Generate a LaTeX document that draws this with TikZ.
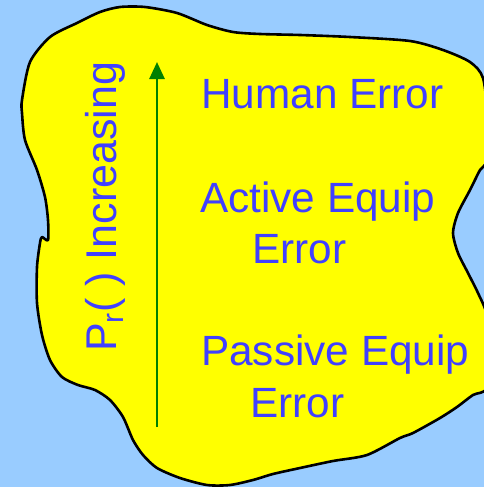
\documentclass[tikz,border=0pt]{standalone}
\usepackage{fontspec}
\setmainfont{Liberation Sans}
\usepackage{tikz}
\usetikzlibrary{
  arrows.meta,
  calc
}
\usepackage{xcolor}
\definecolor{bgblue}{RGB}{153, 204, 255}
\definecolor{blobyellow}{RGB}{255, 255, 0}
\definecolor{txtblue}{RGB}{64, 64, 255}
\definecolor{arrgreen}{RGB}{0, 128, 0}
\tikzset{
  % Shakl
  blob/.style      = {fill=blobyellow, draw=black, line width=2.6pt, line join=round},
  % Strelka
  prarrow/.style   = {-{Triangle[width=15pt,length=17pt]}, line width=2.7pt, draw=arrgreen},
  % Matnlar
  errlab/.style    = {anchor=base west, inner sep=0pt, text=txtblue,
                      font=\fontsize{42.3}{50}\selectfont},
  sidelab/.style   = {errlab, rotate=90, font=\fontsize{43}{50}\selectfont},
}

\begin{document}
\begin{tikzpicture}[x=1pt, y=-1pt]
  % Fon
  \useasboundingbox (0,0) rectangle (484,487);
  \clip (0,0) rectangle (484,487);
  \fill[bgblue] (0,0) rectangle (484,487);
  % Sariq shakl
  \draw[blob] plot[smooth cycle, tension=0.45] coordinates {
    (22,100) (30,62) (50,37) (77,23) (100,12) (120,7) (145,7) (177,13)
    (207,25) (233,32) (260,34) (300,35) (350,37) (410,41) (443,50)
    (470,62) (483,78) (488,120) (487,160) (480,170) (470,190) (458,213)
    (453,233) (458,253) (468,273) (478,293) (487,315) (490,350) (487,388)
    (473,395) (457,407) (440,418) (413,433) (400,438) (367,455) (333,461)
    (300,468) (273,474) (253,480) (230,485) (207,485) (180,478) (157,468)
    (143,455) (133,440) (123,417) (110,400) (95,390) (78,385) (62,377)
    (50,360) (42,335) (37,303) (37,267) (40,243) (42,237) (48,240)
    (48,220) (45,197) (37,170) (25,140) (22,113)};
  % Strelka
  \coordinate (arrbot) at (157,427);
  \coordinate (arrtop) at (157,62);
  \draw[prarrow] (arrbot) -- (arrtop);
  % Yon yozuv
  \node[sidelab] (princ) at (116,352) {P\textsubscript{r}( ) Increasing};
  % Xato turlari
  \node[errlab] (human) at (201,108) {Human Error};
  \node[errlab] (active) at (200,212) {Active Equip};
  \node[errlab] (activeb) at (252,263) {Error};
  \node[errlab] (passive) at (201,365) {Passive Equip};
  \node[errlab] (passiveb) at (250,417) {Error};
\end{tikzpicture}
\end{document}
